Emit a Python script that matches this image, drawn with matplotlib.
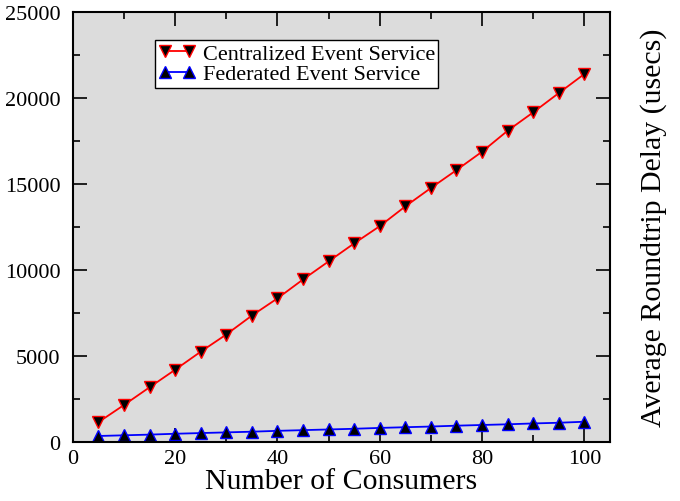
import numpy as np
import matplotlib
matplotlib.use('Agg')
import matplotlib.pyplot as plt
from matplotlib.ticker import MultipleLocator

consumers   = np.array([5, 10, 15, 20, 25, 30, 35, 40, 45, 50, 55, 60, 65, 70, 75, 80, 85, 90, 95, 100])
centralized = np.array([1150, 2150, 3180, 4200, 5250, 6250, 7350, 8350, 9450, 10500,
                        11550, 12550, 13700, 14770, 15810, 16880, 18100, 19170, 20290, 21400])
federated   = np.array([350, 390, 430, 480, 520, 560, 600, 650, 690, 730,
                        770, 820, 860, 900, 950, 990, 1030, 1080, 1120, 1180])

plt.rcParams['font.family'] = ['Liberation Serif', 'DejaVu Serif']

fig = plt.figure(figsize=(6.8, 5.02), dpi=100)
ax = fig.add_axes([0.107, 0.1175, 0.79, 0.8565])
ax.set_facecolor('#dcdcdc')

ax.plot(consumers, centralized, '-v', c='#ff0000', lw=1.3, ms=8, mfc='k', mec='#ff0000', mew=1,
        label='Centralized Event Service')
ax.plot(consumers, federated, '-^', c='#0000ff', lw=1.3, ms=8, mfc='k', mec='#0000ff', mew=1,
        label='Federated Event Service')

ax.set_xlim(0, 105)
ax.set_ylim(0, 25000)
ax.xaxis.set_major_locator(MultipleLocator(20))
ax.xaxis.set_minor_locator(MultipleLocator(10))
ax.yaxis.set_major_locator(MultipleLocator(5000))
ax.yaxis.set_minor_locator(MultipleLocator(2500))
ax.tick_params(which='both', direction='in', top=True, right=True, labelsize=16, width=1.2)
ax.tick_params(which='major', length=10)
ax.tick_params(which='minor', length=5)
ax.tick_params(axis='y', pad=9)
ax.tick_params(axis='x', pad=5)
for s in ax.spines.values():
    s.set_linewidth(1.5)

ax.set_xlabel('Number of Consumers', fontsize=21.5, labelpad=0)
ax.yaxis.set_label_position('right')
ax.set_ylabel('Average Roundtrip Delay (usecs)', fontsize=21.5, labelpad=22)

leg = ax.legend(loc='upper left', bbox_to_anchor=(0.153, 0.935), fontsize=16, frameon=True,
                fancybox=False, edgecolor='k', framealpha=1, borderpad=0.15, labelspacing=0.0,
                handlelength=1.7, handletextpad=0.3, borderaxespad=0, numpoints=2)
leg.get_frame().set_linewidth(1)

plt.savefig('out.png', dpi=100)
